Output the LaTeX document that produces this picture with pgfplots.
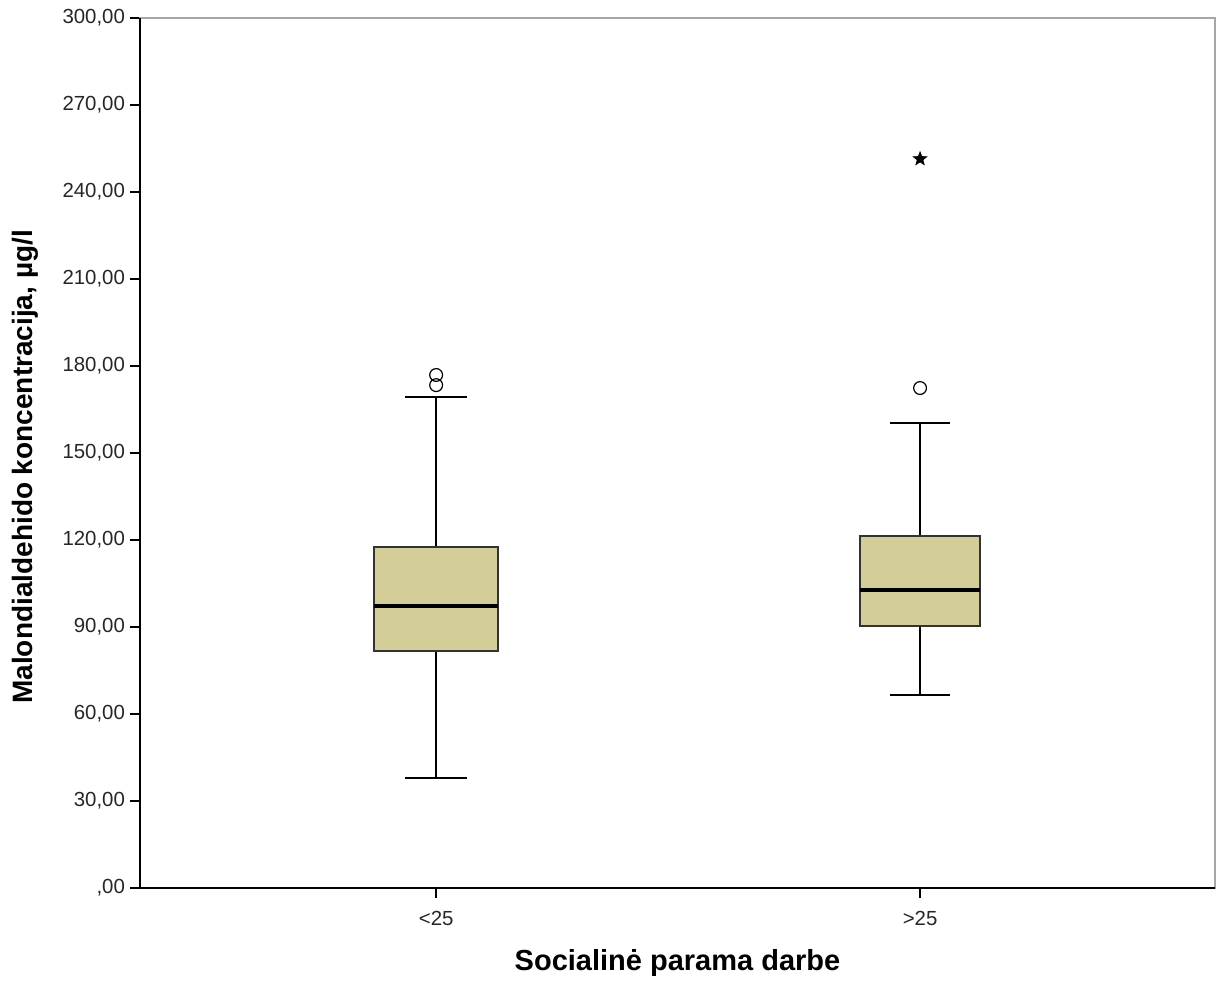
\documentclass[border=0pt]{standalone}
\usepackage{fontspec}
\setmainfont{Liberation Sans}
\usepackage{pgfplots}
\pgfplotsset{compat=1.18}
\definecolor{boxfill}{RGB}{211,206,151}
\pgfdeclareplotmark{fstar}{%
 \pgfpathmoveto{\pgfqpointpolar{90}{1\pgfplotmarksize}}%
 \pgfpathlineto{\pgfqpointpolar{126}{0.42\pgfplotmarksize}}%
 \pgfpathlineto{\pgfqpointpolar{162}{1\pgfplotmarksize}}%
 \pgfpathlineto{\pgfqpointpolar{198}{0.42\pgfplotmarksize}}%
 \pgfpathlineto{\pgfqpointpolar{234}{1\pgfplotmarksize}}%
 \pgfpathlineto{\pgfqpointpolar{270}{0.42\pgfplotmarksize}}%
 \pgfpathlineto{\pgfqpointpolar{306}{1\pgfplotmarksize}}%
 \pgfpathlineto{\pgfqpointpolar{342}{0.42\pgfplotmarksize}}%
 \pgfpathlineto{\pgfqpointpolar{18}{1\pgfplotmarksize}}%
 \pgfpathlineto{\pgfqpointpolar{54}{0.42\pgfplotmarksize}}%
 \pgfpathclose
 \pgfusepathqfillstroke
}
\begin{document}
\begin{tikzpicture}
\begin{axis}[
 scale only axis, width=537.5pt, height=435pt,
 xmin=0.388, xmax=2.6095, ymin=0, ymax=300,
 xtick={1,2}, xticklabels={{<25},{>25}},
 ytick={0,30,...,300},
 yticklabels={{,00},{30,00},{60,00},{90,00},{120,00},{150,00},{180,00},{210,00},{240,00},{270,00},{300,00}},
 tick align=outside, tick pos=left, major tick length=5pt,
 tick style={black, line width=0.75pt},
 axis line style={gray!70, line width=0.75pt},
 ticklabel style={font=\fontsize{10.2}{12}\selectfont, text=black!85},
 yticklabel style={xshift=1pt},
 xticklabel style={yshift=-3pt},
 xlabel={Socialinė parama darbe},
 ylabel={Malondialdehido koncentracija, µg/l},
 label style={font=\bfseries\fontsize{14}{16}\selectfont},
 xlabel style={at={(axis description cs:0.5,-0.0862)}, anchor=center, font=\bfseries\fontsize{14.5}{16}\selectfont},
 ylabel style={at={(axis description cs:-0.107,0.484)}, anchor=center},
 clip=false,
]
% whiskers
\addplot[black, line width=1pt] coordinates {(1,117.6) (1,169.3)};
\addplot[black, line width=1pt] coordinates {(1,81.7) (1,37.9)};
\addplot[black, line width=1.1pt] coordinates {(0.936,169.3) (1.064,169.3)};
\addplot[black, line width=1.1pt] coordinates {(0.936,37.9) (1.064,37.9)};
\addplot[black, line width=1pt] coordinates {(2,121.4) (2,160.3)};
\addplot[black, line width=1pt] coordinates {(2,90.3) (2,66.6)};
\addplot[black, line width=1.1pt] coordinates {(1.938,160.3) (2.062,160.3)};
\addplot[black, line width=1.1pt] coordinates {(1.938,66.6) (2.062,66.6)};
% boxes
\addplot[draw=black!80, fill=boxfill, line width=0.75pt] coordinates {(0.872,81.7) (1.128,81.7) (1.128,117.6) (0.872,117.6)} -- cycle;
\addplot[draw=black!80, fill=boxfill, line width=0.75pt] coordinates {(1.876,90.3) (2.124,90.3) (2.124,121.4) (1.876,121.4)} -- cycle;
% medians
\addplot[black, line width=2pt] coordinates {(0.872,97.2) (1.128,97.2)};
\addplot[black, line width=2pt] coordinates {(1.876,102.8) (2.124,102.8)};
% outliers
\addplot[only marks, mark=o, mark size=3.2pt, black, mark options={fill=white, line width=0.6pt}] coordinates {(1,176.9) (1,173.4) (2,172.4)};
\addplot[only marks, mark=fstar, mark size=3.6pt, black, fill=black, line width=0.3pt] coordinates {(2,251.4)};
\draw[black, line width=0.9pt] (rel axis cs:0,1) -- (rel axis cs:0,0) -- (rel axis cs:1,0);
\end{axis}
\path ([xshift=-70pt,yshift=-48.5pt]current axis.south west) rectangle ([xshift=6pt,yshift=9pt]current axis.north east);
\end{tikzpicture}
\end{document}
